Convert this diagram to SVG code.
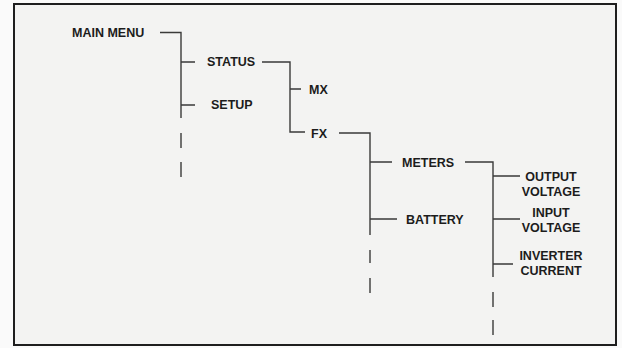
<svg xmlns="http://www.w3.org/2000/svg" width="622" height="348" viewBox="0 0 622 348">
<style>
.t{font-family:"Liberation Sans",Arial,sans-serif;font-weight:bold;font-size:12.5px;fill:#1c1c1c}
.c{text-anchor:middle}
.l{stroke:#3a3a3a;stroke-width:1.4;fill:none}
</style>
<rect x="0" y="0" width="622" height="348" fill="#fafafa"/>
<rect x="14" y="4" width="602" height="341" fill="#f3f3f2" stroke="#1e1e1e" stroke-width="2"/>
<g id="connectors" class="l">
<path d="M160 32.5H181V118M181 133V148M181 162V177"/>
<path d="M181 62H195M181 105H195"/>
<path d="M262 62H290V132H305M290 89H301"/>
<path d="M339 133H370V235M370 250V263M370 278V293"/>
<path d="M370 162H392M370 219H397"/>
<path d="M465 162H493V277M493 292V307M493 320V335"/>
<path d="M493 176H520M493 219H520M493 264H513"/>
</g>
<g id="main-menu"><text class="t" x="72" y="37">MAIN MENU</text></g>
<g id="status"><text class="t" x="207" y="66">STATUS</text></g>
<g id="setup"><text class="t" x="211" y="109">SETUP</text></g>
<g id="mx"><text class="t" x="309" y="94">MX</text></g>
<g id="fx"><text class="t" x="311" y="138">FX</text></g>
<g id="meters"><text class="t" x="402" y="166.5">METERS</text></g>
<g id="battery"><text class="t" x="406" y="224">BATTERY</text></g>
<g id="output-voltage"><text class="t c" x="551" y="180.5">OUTPUT</text><text class="t c" x="551" y="195.5">VOLTAGE</text></g>
<g id="input-voltage"><text class="t c" x="551" y="216.5">INPUT</text><text class="t c" x="551" y="232">VOLTAGE</text></g>
<g id="inverter-current"><text class="t c" x="551" y="260">INVERTER</text><text class="t c" x="551" y="275">CURRENT</text></g>
</svg>
